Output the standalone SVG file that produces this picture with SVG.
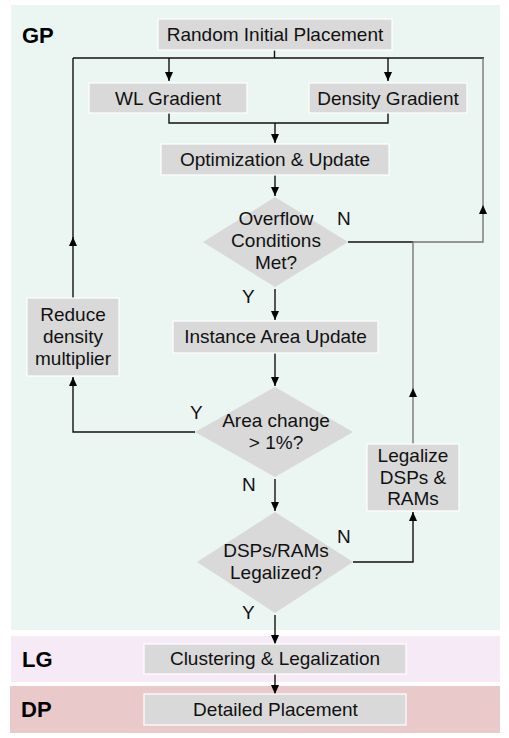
<svg xmlns="http://www.w3.org/2000/svg" width="509" height="738" viewBox="0 0 509 738">
<defs>
<style>
.t{font-family:"Liberation Sans",Arial,Helvetica,sans-serif;font-size:19px;fill:#111;text-anchor:middle}
.lab{font-family:"Liberation Sans",Arial,Helvetica,sans-serif;font-size:19px;fill:#111}
.sec{font-family:"Liberation Sans",Arial,Helvetica,sans-serif;font-size:22px;font-weight:bold;fill:#000}
.box{fill:#d9d9d9;stroke:#ffffff;stroke-width:1.2}
.dia{fill:#d9d9d9}
.c{fill:none;stroke:#111;stroke-width:1.4}
.g{fill:none;stroke:#777;stroke-width:1.4}
</style>
<marker id="ah" markerUnits="userSpaceOnUse" markerWidth="10" markerHeight="9" refX="9" refY="4" orient="auto">
<path d="M0,0 L9,4 L0,8 z" fill="#000"/>
</marker>
</defs>
<rect x="0" y="0" width="509" height="738" fill="#ffffff"/>
<g id="panels">
<rect x="11" y="5" width="489" height="625" fill="#ebf5f2"/>
<rect x="11" y="636" width="489" height="46" fill="#f5eaf5"/>
<rect x="10" y="686" width="490" height="47" fill="#e9c9ca"/>
<text class="sec" x="22" y="43">GP</text>
<text class="sec" x="22" y="667">LG</text>
<text class="sec" x="21" y="717">DP</text>
</g>
<g id="connectors">
<path class="c" d="M274.5,50 V58"/>
<path class="c" d="M73,58 H484"/>
<path class="c" d="M169,58 V81" marker-end="url(#ah)"/>
<path class="c" d="M388,58 V81" marker-end="url(#ah)"/>
<path class="c" d="M169,113 V123 H388 V113"/>
<path class="c" d="M275,123 V143" marker-end="url(#ah)"/>
<path class="c" d="M275,175 V196" marker-end="url(#ah)"/>
<path class="c" d="M348,242 H413"/>
<path class="g" d="M413,242 H483 V205" marker-end="url(#ah)"/>
<path class="g" d="M483,206 V58"/>
<path class="g" d="M413,444 V388" marker-end="url(#ah)"/>
<path class="g" d="M413,389 V242"/>
<path class="c" d="M275,289 V320" marker-end="url(#ah)"/>
<path class="c" d="M275,353 V386" marker-end="url(#ah)"/>
<path class="c" d="M195,432 H73 V377" marker-end="url(#ah)"/>
<path class="c" d="M73,298 V237" marker-end="url(#ah)"/>
<path class="c" d="M73,238 V58"/>
<path class="c" d="M275,479 V511" marker-end="url(#ah)"/>
<path class="c" d="M353,562 H413 V512" marker-end="url(#ah)"/>
<path class="c" d="M275,615 V644" marker-end="url(#ah)"/>
<path class="c" d="M275,674 V694" marker-end="url(#ah)"/>
<text class="lab" x="337" y="225">N</text>
<text class="lab" x="242" y="303">Y</text>
<text class="lab" x="190" y="419">Y</text>
<text class="lab" x="242" y="491">N</text>
<text class="lab" x="337" y="543">N</text>
<text class="lab" x="242" y="619">Y</text>
</g>
<g id="random-initial-placement">
<rect class="box" x="158" y="19" width="234" height="31"/>
<text class="t" x="275" y="41">Random Initial Placement</text>
</g>
<g id="wl-gradient">
<rect class="box" x="89" y="83" width="158" height="30"/>
<text class="t" x="168" y="104.5">WL Gradient</text>
</g>
<g id="density-gradient">
<rect class="box" x="309" y="83" width="158" height="30"/>
<text class="t" x="388" y="104.5">Density Gradient</text>
</g>
<g id="optimization-update">
<rect class="box" x="161" y="144" width="228" height="31"/>
<text class="t" x="275" y="166">Optimization &amp; Update</text>
</g>
<g id="overflow-conditions">
<polygon class="dia" points="275,197 348,242 275,287 203,242"/>
<text class="t" x="276" y="225">Overflow</text>
<text class="t" x="276" y="247">Conditions</text>
<text class="t" x="276" y="269">Met?</text>
</g>
<g id="instance-area-update">
<rect class="box" x="173" y="321" width="205" height="32"/>
<text class="t" x="275.5" y="343">Instance Area Update</text>
</g>
<g id="reduce-density-multiplier">
<rect class="box" x="27" y="298" width="92" height="78"/>
<text class="t" x="73" y="321">Reduce</text>
<text class="t" x="73" y="343">density</text>
<text class="t" x="73" y="364.5">multiplier</text>
</g>
<g id="area-change">
<polygon class="dia" points="275,387 353,432 275,477 195,432"/>
<text class="t" x="276" y="427">Area change</text>
<text class="t" x="276" y="448.5">&gt; 1%?</text>
</g>
<g id="legalize-dsps-rams">
<rect class="box" x="367" y="444" width="92" height="67"/>
<text class="t" x="413" y="462">Legalize</text>
<text class="t" x="413" y="483.5">DSPs &amp;</text>
<text class="t" x="413" y="505">RAMs</text>
</g>
<g id="dsps-rams-legalized">
<polygon class="dia" points="275,512 353,562 275,613 197,562"/>
<text class="t" x="276" y="557">DSPs/RAMs</text>
<text class="t" x="276" y="578.5">Legalized?</text>
</g>
<g id="clustering-legalization">
<rect class="box" x="144" y="644" width="262" height="30"/>
<text class="t" x="275" y="665">Clustering &amp; Legalization</text>
</g>
<g id="detailed-placement">
<rect class="box" x="144" y="694" width="262" height="31"/>
<text class="t" x="275.5" y="716">Detailed Placement</text>
</g>
</svg>
